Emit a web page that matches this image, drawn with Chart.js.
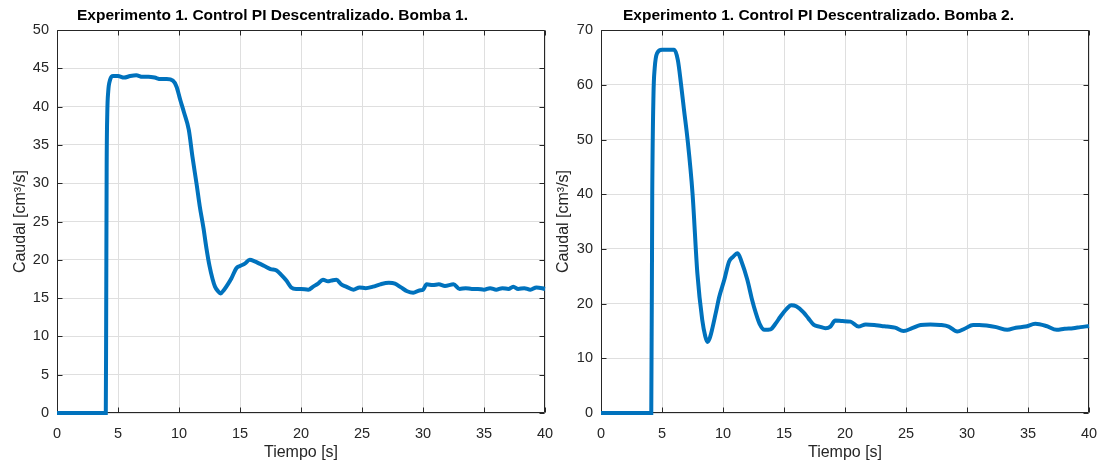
<!DOCTYPE html>
<html>
<head>
<meta charset="utf-8">
<script src="https://cdn.jsdelivr.net/npm/chart.js"></script>
<style>
body{margin:0;background:#fff;}
.panel{position:absolute;top:0;width:556px;height:465px;}
</style>
</head>
<body>
<div class="panel" style="left:0"><canvas id="bomba1" width="556" height="465"></canvas></div>
<div class="panel" style="left:548px"><canvas id="bomba2" width="556" height="465"></canvas></div>
<script>
// Bomba 1
let tiempo1 = [0, 4.0, 4.03, 4.07, 4.12, 4.2, 4.35, 4.6, 5.0, 5.5, 6.0, 6.5, 7.0, 7.5, 8.0, 8.5, 9.0, 9.5, 9.8, 10.1,
  10.4, 10.8, 11.1, 11.45, 11.7, 12.0, 12.25, 12.5, 12.75, 12.95, 13.2, 13.4, 13.7, 14.0, 14.3, 14.7, 15.0, 15.4, 15.8, 16.2,
  16.6, 17.0, 17.5, 18.0, 18.4, 18.8, 19.2, 19.6, 20.0, 20.6, 21.0, 21.4, 21.8, 22.2, 22.5, 22.9, 23.3, 23.7, 24.3, 24.8,
  25.3, 25.9, 26.5, 27.2, 27.7, 28.2, 28.7, 29.2, 29.7, 30.0, 30.3, 30.8, 31.3, 31.8, 32.5, 33.0, 33.5, 34.0, 34.5, 35.0,
  35.5, 36.0, 36.5, 37.0, 37.4, 37.8, 38.3, 38.8, 39.3, 40]
let caudal1 = [0, 0, 12, 32, 39, 42, 43.5, 44.0, 44.0, 43.8, 44.0, 44.1, 43.9, 43.9, 43.8, 43.6, 43.6, 43.4, 42.6, 40.9,
  39.3, 37.0, 33.5, 29.8, 27.0, 24.2, 21.5, 19.2, 17.5, 16.5, 15.9, 15.6, 16.1, 16.8, 17.6, 18.9, 19.2, 19.5, 20.0, 19.8,
  19.5, 19.2, 18.8, 18.6, 18.0, 17.3, 16.4, 16.2, 16.2, 16.1, 16.5, 16.9, 17.4, 17.2, 17.3, 17.4, 16.8, 16.5, 16.1, 16.4,
  16.3, 16.5, 16.8, 17.0, 16.9, 16.4, 15.9, 15.7, 16.0, 16.1, 16.8, 16.7, 16.8, 16.6, 16.8, 16.2, 16.3, 16.2, 16.2, 16.1,
  16.3, 16.1, 16.3, 16.2, 16.5, 16.2, 16.3, 16.1, 16.4, 16.2]

// Bomba 2
let tiempo2 = [0, 4.12, 4.2, 4.3, 4.4, 4.6, 5.0, 5.5, 6.0, 6.3, 6.55, 6.8, 7.1, 7.5, 7.9, 8.3, 8.55, 8.73, 8.9, 9.1,
  9.4, 9.7, 10.1, 10.5, 10.8, 11.2, 11.5, 12.0, 12.35, 12.7, 13.0, 13.4, 13.9, 14.3, 14.7, 15.2, 15.6, 16.0, 16.6, 17.0,
  17.45, 17.9, 18.4, 18.8, 19.2, 19.8, 20.45, 21.1, 21.7, 22.4, 23.0, 23.45, 24.1, 24.8, 25.5, 26.2, 27.0, 27.8, 28.5, 29.2,
  29.8, 30.5, 31.0, 31.6, 32.4, 33.3, 34.0, 34.8, 35.6, 36.5, 37.35, 38.0, 38.7, 39.3, 40]
let caudal2 = [0, 0, 40, 58, 63, 65.8, 66.4, 66.4, 66.4, 64.5, 60.3, 55.5, 49.9, 40.2, 25.5, 17.0, 14.0, 13.0, 13.6, 15.2,
  18.2, 21.3, 24.3, 27.7, 28.5, 29.2, 27.8, 24.3, 21.0, 18.2, 16.3, 15.2, 15.3, 16.3, 17.6, 19.0, 19.7, 19.5, 18.4, 17.3,
  16.1, 15.8, 15.5, 15.8, 16.9, 16.8, 16.7, 15.8, 16.2, 16.1, 15.9, 15.8, 15.6, 15.0, 15.5, 16.1, 16.2, 16.1, 15.8, 14.9,
  15.4, 16.1, 16.1, 16.0, 15.7, 15.2, 15.6, 15.8, 16.3, 15.9, 15.2, 15.4, 15.5, 15.7, 15.9]

let titulo1 = "Experimento 1. Control PI Descentralizado. Bomba 1."
let titulo2 = "Experimento 1. Control PI Descentralizado. Bomba 2."
let etiquetaX = "Tiempo [s]"
let etiquetaY = "Caudal [cm³/s]"

const texto = '#262626'
const rejilla = '#dfdfdf'
const azul = '#0072BD'

Chart.defaults.font.family = "'Liberation Sans', Arial, sans-serif"
Chart.defaults.color = texto

// marco tipo MATLAB con marcas hacia adentro
const marco = {
  id: 'marco',
  beforeDatasetsDraw(chart){
    let ctx = chart.ctx
    let a = chart.chartArea
    let x = chart.scales.x
    let y = chart.scales.y
    let l = Math.round(a.left) + 0.5
    let r = Math.round(a.right) - 0.5
    let t = Math.round(a.top) + 0.5
    let b = Math.round(a.bottom) - 0.5
    ctx.save()
    ctx.strokeStyle = texto
    ctx.lineWidth = 1
    ctx.beginPath()
    ctx.rect(l, t, r - l, b - t)
    x.ticks.forEach(tk => {
      let px = Math.round(x.getPixelForValue(tk.value)) + 0.5
      ctx.moveTo(px, b); ctx.lineTo(px, b - 5)
      ctx.moveTo(px, t); ctx.lineTo(px, t + 5)
    })
    y.ticks.forEach(tk => {
      let py = Math.round(y.getPixelForValue(tk.value)) + 0.5
      ctx.moveTo(l, py); ctx.lineTo(l + 5, py)
      ctx.moveTo(r, py); ctx.lineTo(r - 5, py)
    })
    ctx.stroke()
    ctx.restore()
  }
}

function puntos(t, c){
  return t.map((v, i) => ({x: v, y: c[i]}))
}

function graficar(id, titulo, t, c, ymax, ypaso, anchoY, derecha, padTituloY){
  return new Chart(document.getElementById(id), {
    type: 'line',
    data: {
      datasets: [{
        data: puntos(t, c),
        borderColor: azul,
        borderWidth: 4,
        pointRadius: 0,
        cubicInterpolationMode: 'monotone',
        clip: 4
      }]
    },
    plugins: [marco],
    options: {
      responsive: false,
      animation: false,
      layout: {padding: {left: 0, right: derecha, top: 0, bottom: 0}},
      plugins: {
        legend: {display: false},
        tooltip: {enabled: false},
        title: {
          display: true,
          text: titulo,
          color: '#000',
          font: {size: 15.5, weight: 'bold'},
          padding: {top: 6.5, bottom: 5}
        }
      },
      scales: {
        x: {
          type: 'linear',
          min: 0, max: 40,
          afterFit(s){ s.height = 52; s.paddingLeft = 0; s.paddingRight = 0 },
          grid: {color: rejilla, drawTicks: false},
          border: {display: false},
          ticks: {stepSize: 5, padding: 12, font: {size: 14.5}, color: texto, maxRotation: 0},
          title: {display: true, text: etiquetaX, color: texto, font: {size: 16}, padding: {top: 0, bottom: 3}}
        },
        y: {
          min: 0, max: ymax,
          afterFit(s){ s.width = anchoY },
          grid: {color: rejilla, drawTicks: false},
          border: {display: false},
          ticks: {stepSize: ypaso, padding: 8, font: {size: 14.5}, color: texto},
          title: {display: true, text: etiquetaY, color: texto, font: {size: 16}, padding: {top: padTituloY, bottom: 0}}
        }
      }
    }
  })
}

graficar('bomba1', titulo1, tiempo1, caudal1, 50, 5, 57, 11, 11)
graficar('bomba2', titulo2, tiempo2, caudal2, 70, 10, 53, 15, 6)
</script>
</body>
</html>
